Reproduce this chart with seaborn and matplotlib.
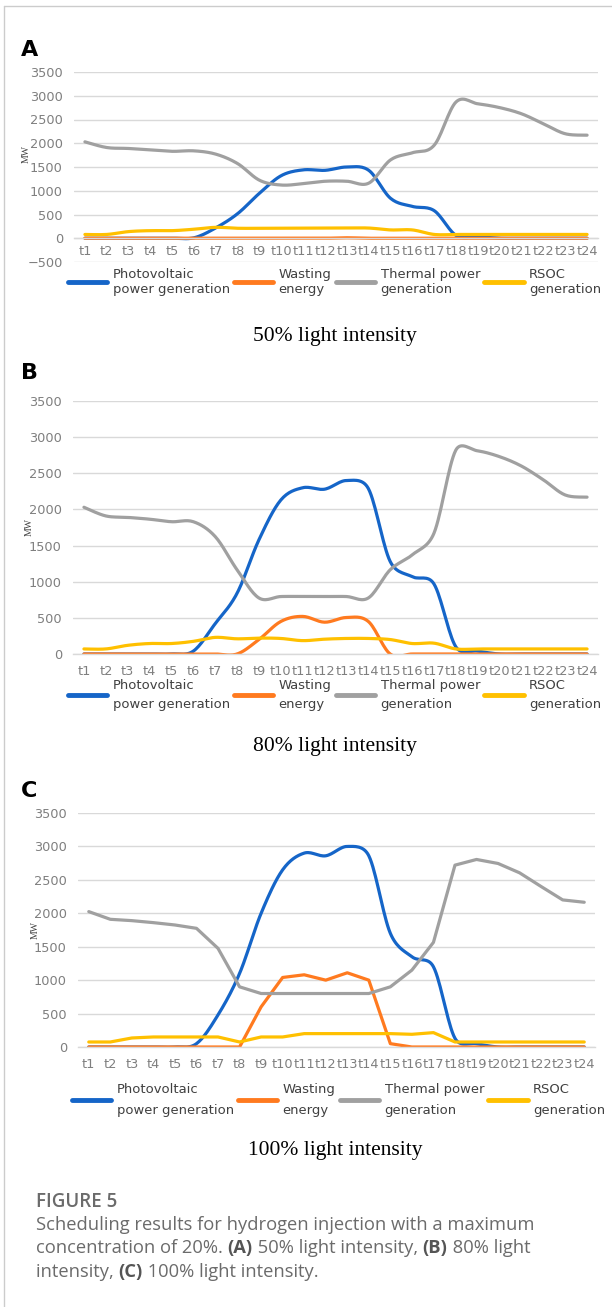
import numpy as np
import matplotlib
matplotlib.use('Agg')
import matplotlib.pyplot as plt
import seaborn as sns
from matplotlib.lines import Line2D

sns.set_theme(style='white')
plt.rcParams['font.family'] = ['DejaVu Sans']

# data (MW per hour)
hours = ['t%d' % i for i in range(1, 25)]
series_names = ['Photovoltaic\npower generation', 'Wasting\nenergy',
                'Thermal power\ngeneration', 'RSOC\ngeneration']
colors = ['#1565C8', '#FF7A1F', '#A0A0A0', '#FFC000']

pv_a = [0, 0, 0, 0, 0, 10, 220, 520, 950, 1320, 1440, 1430, 1500, 1430, 840, 670, 580, 60, 30, 0, 0, 0, 0, 0]
waste_a = [0, 0, 0, 0, 0, 0, 0, 0, 0, 0, 0, 0, 10, 0, 0, 0, 0, 0, 0, 0, 0, 0, 0, 0]
thermal_a = [2030, 1910, 1890, 1860, 1830, 1840, 1770, 1570, 1220, 1120, 1150, 1200, 1200, 1160, 1650, 1800, 1960, 2870, 2830, 2750, 2620, 2410, 2200, 2170]
rsoc_a = [80, 80, 140, 160, 160, 190, 230, 210, 210, 210, 210, 215, 215, 215, 175, 175, 80, 80, 80, 80, 80, 80, 80, 80]

pv_b = [0, 0, 0, 0, 0, 40, 420, 840, 1580, 2130, 2300, 2280, 2400, 2290, 1280, 1070, 970, 100, 40, 0, 0, 0, 0, 0]
waste_b = [0, 0, 0, 0, 0, 0, 0, 0, 200, 450, 520, 440, 505, 450, 0, 0, 0, 0, 0, 0, 0, 0, 0, 0]
thermal_b = [2030, 1910, 1890, 1865, 1830, 1830, 1625, 1165, 775, 795, 795, 795, 795, 775, 1165, 1370, 1670, 2820, 2810, 2730, 2600, 2410, 2200, 2170]
rsoc_b = [70, 70, 120, 145, 145, 175, 230, 210, 220, 215, 185, 205, 215, 215, 200, 145, 150, 70, 70, 70, 70, 70, 70, 70]

pv_c = [0, 0, 0, 0, 0, 50, 480, 1100, 2000, 2650, 2900, 2860, 3000, 2860, 1700, 1350, 1200, 130, 50, 0, 0, 0, 0, 0]
waste_c = [0, 0, 0, 0, 0, 0, 0, 0, 600, 1040, 1080, 1000, 1110, 1000, 50, 0, 0, 0, 0, 0, 0, 0, 0, 0]
thermal_c = [2025, 1910, 1890, 1860, 1825, 1775, 1475, 900, 800, 800, 800, 800, 800, 800, 900, 1150, 1565, 2720, 2805, 2745, 2605, 2400, 2200, 2165]
rsoc_c = [75, 75, 135, 150, 150, 150, 150, 75, 150, 150, 200, 200, 200, 200, 200, 190, 215, 75, 75, 75, 75, 75, 75, 75]

W, H = 612, 1307


def fx(px):
    return px / W


def fy(py):
    return 1 - py / H


def smooth(y, sy, sx=21.8, n=16):
    # Excel-like smoothed line: bezier through the points, control arms
    # limited to half the neighbouring segment (measured in pixels)
    y = np.asarray(y, float)
    x = np.arange(1, len(y) + 1, dtype=float)
    P = np.column_stack([x * sx, y * sy])
    m = len(P)
    out_c, in_c = [], []
    for i in range(m):
        p0 = P[max(i - 1, 0)]
        p2 = P[min(i + 1, m - 1)]
        p1 = P[i]
        d02 = np.linalg.norm(p2 - p0)
        d01 = np.linalg.norm(p1 - p0)
        d12 = np.linalg.norm(p2 - p1)
        if d02 == 0:
            out_c.append(p1)
            in_c.append(p1)
            continue
        f_out = min(1 / 6, d12 / (2 * d02))
        f_in = min(1 / 6, d01 / (2 * d02))
        out_c.append(p1 + (p2 - p0) * f_out)
        in_c.append(p1 - (p2 - p0) * f_in)
    t = np.linspace(0, 1, n, endpoint=False)[:, None]
    pts = []
    for i in range(m - 1):
        b0, b1, b2, b3 = P[i], out_c[i], in_c[i + 1], P[i + 1]
        seg = ((1 - t) ** 3) * b0 + 3 * ((1 - t) ** 2) * t * b1 + 3 * (1 - t) * t ** 2 * b2 + t ** 3 * b3
        pts.append(seg)
    pts.append(P[-1:])
    pts = np.vstack(pts)
    return pts[:, 0] / sx, pts[:, 1] / sy


def draw_panel(rect, data, smooth_flags, ymin, letter, letter_y, title, title_y,
               leg_y, leg_x, linespacing, xpad, ylab_pos):
    ax = fig.add_axes(rect)
    sy = rect[3] * H / (3500 - ymin)
    for vals, col, sm in zip(data, colors, smooth_flags):
        if sm:
            xs, ys = smooth(vals, sy)
        else:
            xs, ys = np.arange(1, 25), np.asarray(vals)
        sns.lineplot(x=xs, y=ys, ax=ax, color=col, lw=2.3, sort=False,
                     estimator=None, legend=False)
    ax.set_xlim(0.5, 24.5)
    ax.set_ylim(ymin, 3500)
    ax.set_xticks(range(1, 25))
    ax.set_xticklabels(hours)
    ax.set_yticks(range(ymin, 3501, 500))
    ax.grid(axis='y', color='#d9d9d9', lw=1)
    ax.grid(axis='x', visible=False)
    for s in ['top', 'right', 'left']:
        ax.spines[s].set_visible(False)
    ax.spines['bottom'].set_position(('data', 0))
    ax.spines['bottom'].set_color('#d9d9d9')
    ax.spines['bottom'].set_linewidth(1)
    ax.tick_params(axis='both', length=0, labelsize=9.3, labelcolor='#7f7f7f')
    ax.tick_params(axis='x', pad=xpad)
    ax.tick_params(axis='y', pad=8)
    ax.set_xlabel('')
    ax.set_ylabel('MW', family='Liberation Serif', fontsize=7, color='#404040')
    ax.yaxis.set_label_coords(*ylab_pos)

    handles = [Line2D([], [], color=c, lw=3.5) for c in colors]
    leg = ax.legend(handles, series_names, ncol=4, loc='center left',
                    bbox_to_anchor=(fx(leg_x), fy(leg_y)), bbox_transform=fig.transFigure,
                    frameon=False, fontsize=9.45, handlelength=3.0, handletextpad=0.4,
                    columnspacing=0.33, borderpad=0, borderaxespad=0)
    for t in leg.get_texts():
        t.set_color('#404040')
        t.set_linespacing(linespacing)

    fig.text(fx(21), fy(letter_y), letter, fontsize=16, weight='bold', va='center', color='black')
    fig.text(fx(335), fy(title_y), title, family='Liberation Serif', fontsize=15.5,
             ha='center', va='center', color='black')
    return ax


fig = plt.figure(figsize=(W / 100, H / 100), dpi=100)
fig.patch.set_facecolor('white')

# thin frame of the figure page
fig.add_artist(Line2D([fx(4), fx(4)], [fy(6), 0], color='#cccccc', lw=1))
fig.add_artist(Line2D([fx(4), 1], [fy(6), fy(6)], color='#cccccc', lw=1))

draw_panel([fx(74), fy(262), fx(598) - fx(74), fy(72) - fy(262)],
           [pv_a, waste_a, thermal_a, rsoc_a], [True, True, True, True], -500,
           'A', 50, '50% light intensity', 336, 282, 68, 1.2, 5, (-0.083, 0.57))
draw_panel([fx(73), fy(654), fx(598) - fx(73), fy(401) - fy(654)],
           [pv_b, waste_b, thermal_b, rsoc_b], [True, True, True, True], 0,
           'B', 373, '80% light intensity', 747, 695, 68, 1.55, 8, (-0.075, 0.5))
draw_panel([fx(78), fy(1047), fx(595) - fx(78), fy(813) - fy(1047)],
           [pv_c, waste_c, thermal_c, rsoc_c], [True, False, False, False], 0,
           'C', 791, '100% light intensity', 1150, 1100, 72, 1.75, 8, (-0.075, 0.5))

# caption with bold panel references
cap_font = dict(family='Open Sans', fontsize=13.2, color='#6b6b6b', va='center')
fig.text(fx(36), fy(1202), 'FIGURE 5', family='Open Sans', fontsize=13.5, weight='semibold',
         color='#6b6b6b', va='center')
renderer = fig.canvas.get_renderer()


def rich_line(x, y, parts):
    for s, bold in parts:
        t = fig.text(x, y, s, weight='bold' if bold else 'normal', **cap_font)
        if bold:
            t.set_color('#555555')
        bb = t.get_window_extent(renderer)
        x = bb.x1 / fig.bbox.width


rich_line(fx(36), fy(1225), [('Scheduling results for hydrogen injection with a maximum', False)])
rich_line(fx(36), fy(1248), [('concentration of 20%. ', False), ('(A)', True),
                             (' 50% light intensity, ', False), ('(B)', True), (' 80% light', False)])
rich_line(fx(36), fy(1272), [('intensity, ', False), ('(C)', True), (' 100% light intensity.', False)])

fig.savefig('out.png', dpi=100, facecolor='white')
